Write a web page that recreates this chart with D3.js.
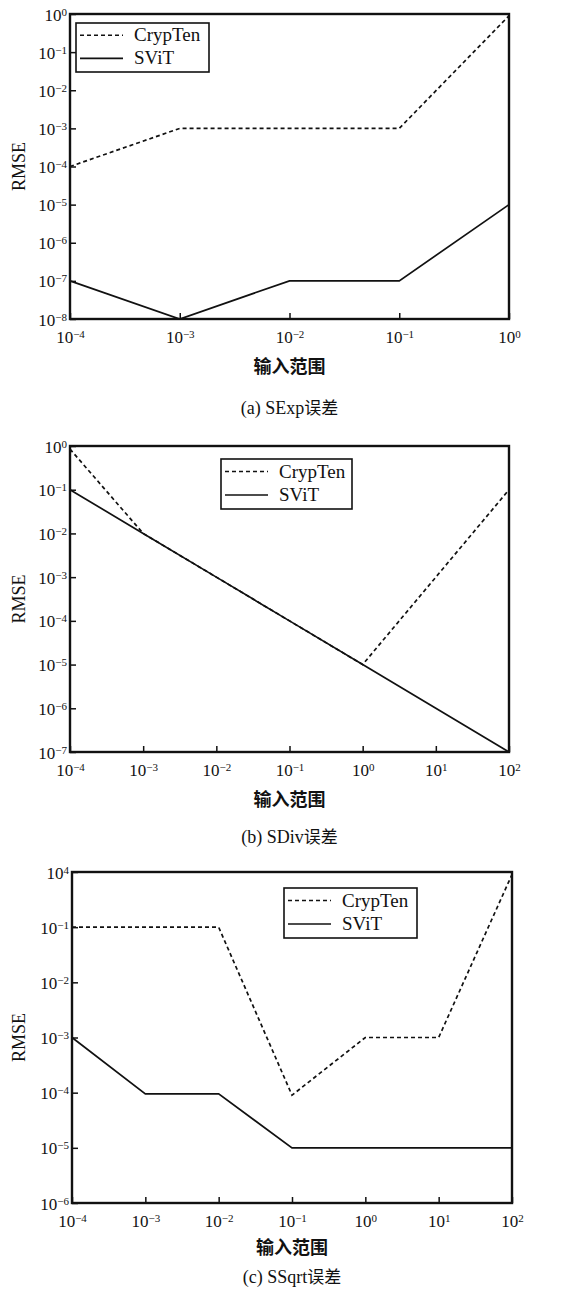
<!DOCTYPE html>
<html><head><meta charset="utf-8">
<script src="https://cdn.jsdelivr.net/npm/d3@7"></script>
<style>
body{margin:0;background:#fff;}
svg{display:block;}
text{font-family:"Liberation Serif","Times New Roman",serif;fill:#111;}
.cjk{font-family:"Noto Sans CJK SC",sans-serif;}
</style></head>
<body>
<script>
// ---- Data ----
const seriesNames = ["CrypTen", "SViT"];
// Panel (a) SExp
const aX = [1e-4, 1e-3, 1e-2, 1e-1, 1e0];
const aCrypTen = [1e-4, 1e-3, 1e-3, 1e-3, 0.9];
const aSViT = [1e-7, 1e-8, 1e-7, 1e-7, 1e-5];
const aXTickExp = [-4, -3, -2, -1, 0];
const aYTickExp = [0, -1, -2, -3, -4, -5, -6, -7, -8];
// Panel (b) SDiv
const bX = [1e-4, 1e-3, 1e-2, 1e-1, 1e0, 1e1, 1e2];
const bCrypTenX = [1e-4, 1e-3, 1e-2, 1e-1, 1e0, 1e2];
const bCrypTen = [0.85, 1e-2, 1e-3, 1e-4, 1e-5, 1e-1];
const bSViT = [1e-1, 1e-2, 1e-3, 1e-4, 1e-5, 1e-6, 1e-7];
const bXTickExp = [-4, -3, -2, -1, 0, 1, 2];
const bYTickExp = [0, -1, -2, -3, -4, -5, -6, -7];
// Panel (c) SSqrt
const cX = [1e-4, 1e-3, 1e-2, 1e-1, 1e0, 1e1, 1e2];
const cCrypTen = [1e-1, 1e-1, 1e-1, 0.9e-4, 1e-3, 1e-3, 0.9];
const cSViT = [1e-3, 0.95e-4, 0.95e-4, 1e-5, 1e-5, 1e-5, 1e-5];
const cXTickExp = [-4, -3, -2, -1, 0, 1, 2];
const cYTickVals = [1e0, 1e-1, 1e-2, 1e-3, 1e-4, 1e-5, 1e-6];
const cYTickLabels = ["4", "−1", "−2", "−3", "−4", "−5", "−6"]; // as printed in the figure
const xLabel = "输入范围";
const yLabel = "RMSE";
const captions = ["(a) SExp误差", "(b) SDiv误差", "(c) SSqrt误差"];

const W = 565, H = 1290;
const svg = d3.select("body").append("svg").attr("width", W).attr("height", H);
svg.append("rect").attr("width", W).attr("height", H).attr("fill", "#fff");

function expStr(e){ return e < 0 ? "−" + Math.abs(e) : String(e); }

function powLabel(sel, exp, anchor){
  sel.text(null);
  sel.attr("text-anchor", anchor);
  sel.append("tspan").text("10");
  sel.append("tspan").attr("dy", "-0.45em").attr("font-size", "11px").text(exp);
}

function panel(cfg){
  const g = svg.append("g");
  const x = d3.scaleLog().domain(cfg.xDomain).range([cfg.left, cfg.right]);
  const y = d3.scaleLog().domain(cfg.yDomain).range([cfg.bottom, cfg.top]);

  // Series
  const line = d3.line().x(d => x(d[0])).y(d => y(d[1]));
  g.append("path").datum(d3.zip(cfg.ctX, cfg.ct)).attr("d", line)
    .attr("fill", "none").attr("stroke", "#111").attr("stroke-width", 1.7)
    .attr("stroke-dasharray", "4,3");
  g.append("path").datum(d3.zip(cfg.svX, cfg.sv)).attr("d", line)
    .attr("fill", "none").attr("stroke", "#111").attr("stroke-width", 1.7);

  // Axes with inward ticks
  const xAxis = d3.axisBottom(x).tickValues(cfg.xTicks).tickSize(-6).tickFormat("");
  const gx = g.append("g").attr("transform", `translate(0,${cfg.bottom})`).call(xAxis);
  gx.select(".domain").remove();
  gx.selectAll(".tick line").attr("stroke", "#111").attr("stroke-width", 1.5);
  gx.selectAll(".tick").append("text").attr("y", 24).attr("font-size", "17px")
    .each(function(d, i){ powLabel(d3.select(this), cfg.xTickLabels[i], "middle"); });

  const yAxis = d3.axisLeft(y).tickValues(cfg.yTicks).tickSize(-6).tickFormat("");
  const gy = g.append("g").attr("transform", `translate(${cfg.left},0)`).call(yAxis);
  gy.select(".domain").remove();
  gy.selectAll(".tick line").attr("stroke", "#111").attr("stroke-width", 1.5);
  gy.selectAll(".tick").append("text").attr("x", -3).attr("y", 6).attr("font-size", "17px")
    .each(function(d, i){ powLabel(d3.select(this), cfg.yTickLabels[i], "end"); });

  // Frame
  g.append("rect").attr("x", cfg.left).attr("y", cfg.top)
    .attr("width", cfg.right - cfg.left).attr("height", cfg.bottom - cfg.top)
    .attr("fill", "none").attr("stroke", "#111").attr("stroke-width", 2.4);

  // Y label
  g.append("text").attr("transform", `translate(${cfg.yLabelX},${(cfg.top + cfg.bottom)/2}) rotate(-90)`)
    .attr("text-anchor", "middle").attr("font-size", "18px").text(yLabel);
  // X label
  g.append("text").attr("class", "cjk").attr("x", (cfg.left + cfg.right)/2).attr("y", cfg.xLabelY)
    .attr("text-anchor", "middle").attr("font-size", "18px").attr("font-weight", "bold").text(xLabel);
  // Caption
  const cap = g.append("text").attr("x", (cfg.left + cfg.right)/2).attr("y", cfg.capY)
    .attr("text-anchor", "middle").attr("font-size", "18px");
  const m = cfg.caption.match(/^(.*?)(误差)$/);
  cap.append("tspan").text(m[1]);
  cap.append("tspan").attr("class", "cjk").attr("font-size", "17px").text(m[2]);

  // Legend
  const L = cfg.legend;
  g.append("rect").attr("x", L.x).attr("y", L.y).attr("width", L.w).attr("height", L.h)
    .attr("fill", "#fff").attr("stroke", "#111").attr("stroke-width", 1.6);
  seriesNames.forEach((name, i) => {
    const yy = L.y + L.h * (i === 0 ? 0.25 : 0.72);
    g.append("line").attr("x1", L.x + 4).attr("x2", L.x + 47).attr("y1", yy).attr("y2", yy)
      .attr("stroke", "#111").attr("stroke-width", 1.7)
      .attr("stroke-dasharray", i === 0 ? "4,3" : null);
    g.append("text").attr("x", L.x + 58).attr("y", yy + 6).attr("font-size", "19px").text(name);
  });
}

panel({
  left: 70, right: 509, top: 14, bottom: 319,
  xDomain: [1e-4, 1e0], yDomain: [1e-8, 1e0],
  ctX: aX, ct: aCrypTen, svX: aX, sv: aSViT,
  xTicks: aXTickExp.map(e => Math.pow(10, e)), xTickLabels: aXTickExp.map(expStr),
  yTicks: aYTickExp.map(e => Math.pow(10, e)), yTickLabels: aYTickExp.map(expStr),
  yLabelX: 25, xLabelY: 373, capY: 414, caption: captions[0],
  legend: {x: 76, y: 23, w: 133, h: 49}
});
panel({
  left: 70, right: 509, top: 446, bottom: 752,
  xDomain: [1e-4, 1e2], yDomain: [1e-7, 1e0],
  ctX: bCrypTenX, ct: bCrypTen, svX: bX, sv: bSViT,
  xTicks: bXTickExp.map(e => Math.pow(10, e)), xTickLabels: bXTickExp.map(expStr),
  yTicks: bYTickExp.map(e => Math.pow(10, e)), yTickLabels: bYTickExp.map(expStr),
  yLabelX: 25, xLabelY: 806, capY: 843, caption: captions[1],
  legend: {x: 221, y: 459, w: 131, h: 50}
});
panel({
  left: 72, right: 512, top: 872, bottom: 1203,
  xDomain: [1e-4, 1e2], yDomain: [1e-6, 1e0],
  ctX: cX, ct: cCrypTen, svX: cX, sv: cSViT,
  xTicks: cXTickExp.map(e => Math.pow(10, e)), xTickLabels: cXTickExp.map(expStr),
  yTicks: cYTickVals, yTickLabels: cYTickLabels,
  yLabelX: 25, xLabelY: 1254, capY: 1283, caption: captions[2],
  legend: {x: 284, y: 888, w: 133, h: 50}
});
</script>
</body></html>
